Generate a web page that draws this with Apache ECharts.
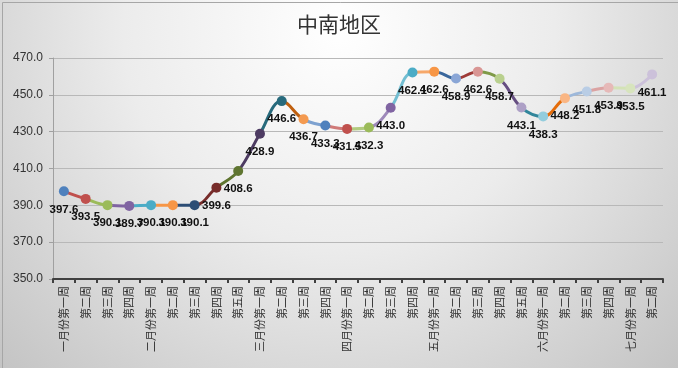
<!DOCTYPE html>
<html>
<head>
<meta charset="utf-8">
<script src="https://cdn.jsdelivr.net/npm/echarts@6/dist/echarts.min.js"></script>
<style>
  html, body { margin: 0; padding: 0; }
  #chart { width: 678px; height: 368px; }
</style>
</head>
<body>
<div id="chart"></div>
<script>
const title = '中南地区';
const categories = [
  '一月份第一周', '第二周', '第三周', '第四周',
  '二月份第一周', '第二周', '第三周', '第四周', '第五周',
  '三月份第一周', '第二周', '第三周', '第四周',
  '四月份第一周', '第二周', '第三周', '第四周',
  '五月份第一周', '第二周', '第三周', '第四周', '第五周',
  '六月份第一周', '第二周', '第三周', '第四周',
  '七月份第一周', '第二周'
];
const values = [
  397.6, 393.5, 390.1, 389.7,
  390.1, 390.1, 390.1, 399.6, 408.6,
  428.9, 446.6, 436.7, 433.3,
  431.5, 432.3, 443.0, 462.1,
  462.6, 458.9, 462.6, 458.7, 443.1,
  438.3, 448.2, 451.8, 453.9,
  453.5, 461.1
];
const yTicks = { min: 350, max: 470, interval: 20 };

// colours of the line segment that ends at each point
const segColors = [
  '#4F81BD', '#C0504D', '#9BBB59', '#8064A2',
  '#4BACC6', '#F79646', '#2C4D75', '#772C2A', '#5F7530',
  '#4D3B62', '#276A7C', '#C0600F', '#7EA2D0',
  '#D07A78', '#B2CB80', '#9E89BA', '#72BED2',
  '#F6A86A', '#3A679C', '#9F3B38', '#7F9A48', '#664F82',
  '#31869B', '#E46C0A', '#9DB8DA', '#DBA3A2',
  '#D3E2B6', '#CCC1DA'
];
// colours of each point's marker
const markerColors = [
  '#4F81BD', '#C0504D', '#9BBB59', '#8064A2',
  '#4BACC6', '#F79646', '#2C4D75', '#772C2A', '#5F7530',
  '#4D3B62', '#276A7C', '#F49A50', '#4F81BD',
  '#C0504D', '#9BBB59', '#8064A2', '#4BACC6',
  '#F79646', '#8AA6D6', '#D99694', '#B9D08E', '#ADA0C6',
  '#93CDDD', '#FAB684', '#B9CDE5', '#E6B9B8',
  '#D7E4BD', '#CCC1DA'
];

const pieces = values.map((v, i) => i === 0
  ? { lte: 0, color: segColors[0] }
  : { gt: i - 1, lte: i, color: segColors[i] });

const chart = echarts.init(document.getElementById('chart'), null, { renderer: 'canvas' });
chart.setOption({
  animation: false,
  backgroundColor: {
    type: 'radial', x: 0.5, y: 0.08, r: 1.3,
    colorStops: [
      { offset: 0, color: '#ffffff' },
      { offset: 0.45, color: '#ececec' },
      { offset: 1, color: '#c4c4c4' }
    ]
  },
  graphic: [{
    type: 'rect', left: 0, top: 0, z: 100,
    shape: { x: 0.5, y: 0.5, width: 677, height: 367 },
    style: { fill: 'none', stroke: '#a6a6a6', lineWidth: 1 }
  }],
  title: {
    text: title, left: 'center', top: 9,
    textStyle: { fontFamily: 'Noto Sans CJK SC', fontSize: 21, fontWeight: 'normal', color: '#333333' }
  },
  grid: { left: 53, right: 15, top: 58, bottom: 89, containLabel: false },
  xAxis: {
    type: 'category', data: categories, boundaryGap: true,
    axisLine: { lineStyle: { color: '#404040', width: 2 } },
    axisTick: { show: true, interval: 0, length: 4, lineStyle: { color: '#404040', width: 2 } },
    axisLabel: {
      interval: 0, rotate: 90, margin: 7,
      fontFamily: 'Noto Sans CJK SC', fontSize: 11, color: '#333333'
    },
    splitLine: { show: false }
  },
  yAxis: {
    type: 'value', min: yTicks.min, max: yTicks.max, interval: yTicks.interval,
    axisLine: { show: true, lineStyle: { color: '#a0a0a0', width: 1 } },
    axisTick: { show: true, length: 4, lineStyle: { color: '#a0a0a0' } },
    axisLabel: {
      margin: 10, formatter: v => v.toFixed(1),
      fontFamily: 'Liberation Sans', fontSize: 12, color: '#333333'
    },
    splitLine: { show: true, lineStyle: { color: '#b8b8b8', width: 1 } }
  },
  visualMap: {
    show: false, type: 'piecewise', dimension: 0, seriesIndex: 0,
    pieces: pieces
  },
  series: [
    {
      type: 'line', data: values, smooth: 0.4, showSymbol: false,
      lineStyle: { width: 3 }, z: 2
    },
    {
      type: 'line', smooth: 0.4, z: 3,
      data: values.map((v, i) => ({ value: v, itemStyle: { color: markerColors[i] } })),
      lineStyle: { width: 0, opacity: 0 },
      symbol: 'circle', symbolSize: 10, showAllSymbol: true,
      itemStyle: { borderWidth: 0 },
      label: {
        show: true, position: 'bottom', distance: 7,
        formatter: p => Number(p.value).toFixed(1),
        fontFamily: 'Liberation Sans', fontSize: 11.5, fontWeight: 'bold', color: '#111111'
      }
    }
  ]
});
</script>
</body>
</html>
